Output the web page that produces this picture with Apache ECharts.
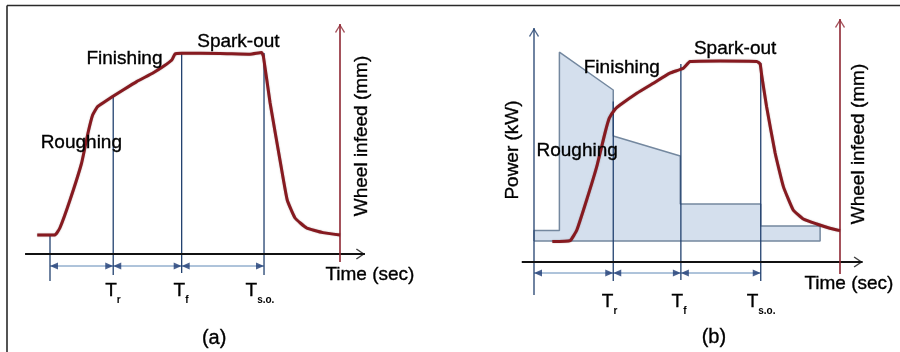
<!DOCTYPE html>
<html><head><meta charset="utf-8">
<script src="https://cdn.jsdelivr.net/npm/echarts@6/dist/echarts.min.js"></script>
<style>html,body{margin:0;padding:0;background:#fff}#c{width:900px;height:352px}</style>
</head><body><div id="c"></div>
<script>
// ================= DATA =================
// Panel (a): wheel infeed vs time (arbitrary units)
const phaseTimesA = [0, 21.8, 45.4, 73.8];          // start, Tr, Tf, Ts.o.
const infeedAxisTimeA = 100;
const infeedTimeA  = [-4.4, 1.7, 3.4, 6.9, 10.9, 13.1, 14.7, 16.3, 19.0, 21.6, 25.2, 29.9, 35.5, 39.0, 42.0, 43.1, 45.4, 58.6, 69.0, 73.0, 73.6, 75.9, 79.3, 81.8, 84.5, 88.5, 94.1, 100];
const infeedValueA = [9.5, 9.5, 13, 27, 45.5, 60.5, 69.5, 73.5, 76.2, 78.7, 82, 86.2, 90.5, 93.7, 97, 100, 100.4, 100.3, 99.9, 100.7, 98.7, 75.5, 47, 27, 18, 13, 10.7, 9.5];
const markerTopA    = [9.5, 78.5, 100.5, 100.5];
const markerBottomA = [-13.5, -10.5, -9.5, -10.5];

// Panel (b): power + wheel infeed vs time
const phaseTimesB = [0, 25.9, 48.0, 74.1];
const infeedAxisTimeB = 100;
const infeedTimeB  = [6.0, 11.8, 14.0, 17.2, 20.5, 23.2, 24.6, 26.5, 28.1, 33.6, 39.0, 44.4, 48.8, 51.0, 60.8, 72.8, 73.9, 74.4, 76.0, 78.8, 81.5, 84.7, 88.0, 92.4, 96.7, 100];
const infeedValueB = [10.2, 10.7, 16, 31, 47.7, 64.5, 71.9, 76.4, 78.5, 84.4, 89.4, 94.4, 96.9, 100.2, 100.5, 100.3, 99, 93.5, 77.7, 54.5, 37.7, 26, 21.5, 19, 16.9, 15.7];
const powerTimeB  = [0, 0, 8.3, 8.3, 25.9, 25.9, 47.8, 47.8, 74.1, 74.1, 93.5, 93.5, 0];
const powerValueB = [0, 5.2, 5.2, 94.4, 75.5, 52.5, 42.5, 18.5, 18.5, 7.5, 7.5, 0, 0];
const markerTopB    = [117, 80.2, 99, 99.5];
const markerBottomB = [-16.5, -9.5, -9, -9.5];

const phaseNames = ['Roughing', 'Finishing', 'Spark-out'];
const tickLabels = [['T', 'r'], ['T', 'f'], ['T', 's.o.']];
const axisTitles = { infeed: 'Wheel infeed (mm)', time: 'Time (sec)', power: 'Power (kW)' };
const panelTitles = ['(a)', '(b)'];

// ================= LAYOUT (annotation anchors, data units) =================
const annA = {
  phase: [[-3.4, 55.5], [12.4, 97.5], [50.6, 106]],
  infeed: [107.6, 59], time: [94.8, -10.5],
  tickX: [21.7, 45.2, 72.4], tickY: -18.5,
  title: [56.6, -42], axisY: [-8.6, 108.6], redAxis: [-4, 115], dimY: -6
};
const annB = {
  phase: [[0.65, 55.6], [16.1, 97.2], [52.1, 106.4]],
  infeed: [106, 59], time: [88.2, -10.7], power: [-6.9, 56],
  tickX: [24.7, 47.4, 74.2], tickY: -20,
  title: [58.8, -37.5], axisY: [-4.0, 107.4], redAxis: [-6, 121.5], dimY: -5.5
};

// ================= STYLE =================
const FONT = 'Liberation Sans, Arial, sans-serif';
const TXT = '#000';
const NAVY = '#22416f';
const RED = '#861a20';
const REDAXIS = '#8e2632';
const SHAFT = '#5f88b6';
const HEAD = '#1d3b74';
const CHEVRON = 'path://M5,0 L10,9 L9,10 L5,2.6 L1,10 L0,9 Z';

function zip(xs, ys) { return xs.map((x, i) => [x, ys[i]]); }
function seg(g, y, pts, color, width, z) {
  return { type: 'line', xAxisIndex: g, yAxisIndex: y, data: pts, symbol: 'none', showSymbol: false,
    lineStyle: { color: color, width: width }, z: z, silent: true, animation: false };
}
function heads(g, y, items, color, symbol, size, z) {
  return { type: 'scatter', xAxisIndex: g, yAxisIndex: y, data: items, symbol: symbol, symbolSize: size,
    itemStyle: { color: color }, z: z, silent: true, animation: false };
}
function texts(g, y, items) {
  return { type: 'scatter', xAxisIndex: g, yAxisIndex: y, data: items, symbolSize: 1,
    itemStyle: { color: 'rgba(0,0,0,0)' }, z: 20, silent: true, animation: false };
}
function lbl(pos, text, extra) {
  return { value: pos, label: Object.assign({ show: true, formatter: text, color: TXT, opacity: 1,
    textBorderColor: TXT, textBorderWidth: 0.35, fontFamily: FONT, fontSize: 19 }, extra) };
}
const tickRich = {
  t: { fontSize: 19, lineHeight: 28, color: TXT, fontFamily: FONT, verticalAlign: 'middle', textBorderColor: TXT, textBorderWidth: 0.35 },
  s: { fontSize: 10, lineHeight: 10, fontWeight: 'bold', color: TXT, fontFamily: FONT, verticalAlign: 'bottom', textBorderWidth: 0 }
};

function panel(g, yI, times, markTop, markBot, axisTime, ann, curveT, curveV) {
  const s = [];
  // time axis
  s.push(seg(g, yI, [[ann.axisY[0], 0], [ann.axisY[1], 0]], '#111', 2, 6));
  s.push(heads(g, yI, [{ value: [ann.axisY[1], 0], symbolRotate: -90, symbolOffset: [-4.5, 0] }], '#111', CHEVRON, [11, 9], 6));
  // red wheel-infeed axis
  s.push(seg(g, yI, [[axisTime, ann.redAxis[0]], [axisTime, ann.redAxis[1]]], REDAXIS, 1.6, 6));
  s.push(heads(g, yI, [{ value: [axisTime, ann.redAxis[1]], symbolOffset: [0, 4.5] }], REDAXIS, CHEVRON, [10, 9], 6));
  // phase markers
  times.forEach((t, i) => {
    s.push(seg(g, yI, [[t, markBot[i]], [t, markTop[i]]], NAVY, 1.3, 5));
  });
  // power axis arrow (panel b only)
  if (ann.power) {
    s.push(heads(g, yI, [{ value: [times[0], markTop[0]], symbolOffset: [0, 4.5] }], NAVY, CHEVRON, [10, 9], 6));
  }
  // dimension arrows
  const arr = [];
  for (let i = 0; i < times.length - 1; i++) {
    s.push(seg(g, yI, [[times[i], ann.dimY], [times[i + 1], ann.dimY]], SHAFT, 1, 4));
    arr.push({ value: [times[i], ann.dimY], symbolRotate: 90, symbolOffset: [4, 0] });
    arr.push({ value: [times[i + 1], ann.dimY], symbolRotate: -90, symbolOffset: [-4, 0] });
  }
  s.push(heads(g, yI, arr, HEAD, 'triangle', [7, 8], 7));
  // infeed curve
  s.push({ type: 'line', xAxisIndex: g, yAxisIndex: yI, data: zip(curveT, curveV), symbol: 'none', showSymbol: false,
    smooth: 0.12, lineStyle: { color: RED, width: 3, shadowColor: 'rgba(60,0,0,0.35)', shadowBlur: 1.5 }, z: 10, silent: true, animation: false });
  // labels
  const L = [];
  phaseNames.forEach((n, i) => L.push(lbl(ann.phase[i], n, { position: 'right', distance: 0 })));
  L.push(lbl(ann.infeed, axisTitles.infeed, { position: 'inside', rotate: 90 }));
  L.push(lbl(ann.time, axisTitles.time, { position: 'right', distance: 0 }));
  if (ann.power) L.push(lbl(ann.power, axisTitles.power, { position: 'inside', rotate: 90 }));
  tickLabels.forEach((tl, i) => L.push(lbl([ann.tickX[i], ann.tickY], '{t|' + tl[0] + '}{s|' + tl[1] + '}', { position: 'inside', rich: tickRich })));
  L.push(lbl(ann.title, panelTitles[g], { position: 'inside', fontSize: 20 }));
  s.push(texts(g, yI, L));
  return s;
}

let series = [];
series = series.concat(panel(0, 0, phaseTimesA, markerTopA, markerBottomA, infeedAxisTimeA, annA, infeedTimeA, infeedValueA));
// power area in panel (b)
series.push({ type: 'line', xAxisIndex: 1, yAxisIndex: 2, data: zip(powerTimeB, powerValueB), symbol: 'none', showSymbol: false,
  lineStyle: { color: '#74889f', width: 1.5 }, areaStyle: { color: '#d4dfed', opacity: 1 }, z: 2, silent: true, animation: false });
series = series.concat(panel(1, 1, phaseTimesB, markerTopB, markerBottomB, infeedAxisTimeB, annB, infeedTimeB, infeedValueB));

const chart = echarts.init(document.getElementById('c'), null, { renderer: 'canvas' });
chart.setOption({
  animation: false,
  backgroundColor: '#fff',
  grid: [
    { left: 21, top: 14, width: 362.5, height: 336 },
    { left: 503.4, top: 14, width: 382.5, height: 336 }
  ],
  xAxis: [
    { gridIndex: 0, type: 'value', min: -10, max: 115, show: false },
    { gridIndex: 1, type: 'value', min: -10, max: 115, show: false }
  ],
  yAxis: [
    { gridIndex: 0, type: 'value', min: -48, max: 120, show: false },
    { gridIndex: 1, type: 'value', min: -44, max: 124, show: false },
    { gridIndex: 1, type: 'value', min: -54.5, max: 113.5, show: false }
  ],
  graphic: [
    { type: 'line', shape: { x1: 7, y1: 5.5, x2: 900, y2: 5.5 }, style: { stroke: '#2a2a2a', lineWidth: 1.6 }, silent: true },
    { type: 'line', shape: { x1: 7, y1: 5.5, x2: 7, y2: 352 }, style: { stroke: '#2a2a2a', lineWidth: 1.6 }, silent: true }
  ],
  series: series
});
</script>
</body></html>
